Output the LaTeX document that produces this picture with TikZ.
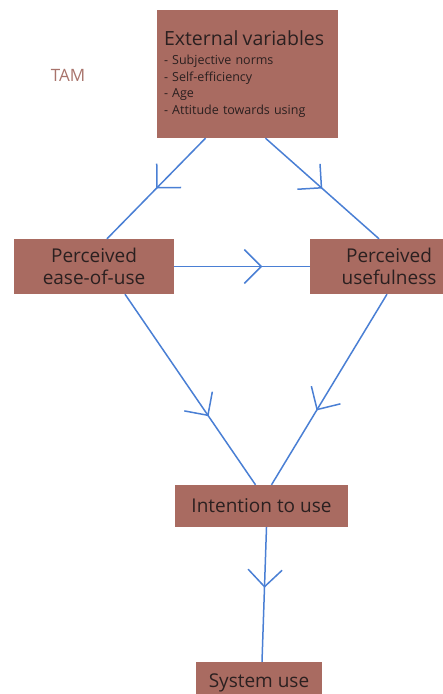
\documentclass[tikz,border=0pt]{standalone}
\usepackage{fontspec}
\setmainfont{Open Sans}
\usetikzlibrary{arrows.meta,calc,decorations.markings}

\definecolor{boxred}{HTML}{A96B61}
\definecolor{tamred}{HTML}{A8736B}
\definecolor{linkblue}{HTML}{4A7FD4}
\definecolor{inktext}{HTML}{2B2020}

\tikzset{
  box/.style={fill=boxred, text=inktext, inner sep=0pt, align=center},
  flow/.style={draw=linkblue, line width=1.5pt, postaction=decorate,
    decoration={markings, mark=at position #1 with
      {\arrow{Straight Barb[length=17pt,width=34pt,line width=1.5pt]}}}},
  flow/.default=0.5
}

\begin{document}
\begin{tikzpicture}[x=1pt,y=-1pt]
  \useasboundingbox (0,0) rectangle (443,694);

  \node[text=tamred, font=\fontsize{17}{19}\selectfont] (tam) at (68,75) {TAM};

  \node[box, align=left, text width=167pt, inner xsep=7pt, minimum height=128pt,
        font=\fontsize{12.5}{16.5}\selectfont] (ext) at (247.5,74)
    {{\fontsize{19.5}{21}\selectfont External variables}\\[3pt]
     - Subjective norms\\ - Self-efficiency\\ - Age\\ - Attitude towards using};
  \node[box, minimum width=160pt, minimum height=55pt,
        font=\fontsize{19}{22}\selectfont] (ease) at (94,266.5)
    {Perceived\\ease-of-use};
  \node[box, minimum width=158pt, minimum height=55pt,
        font=\fontsize{19}{22}\selectfont] (use) at (389,266.5)
    {Perceived\\usefulness};
  \node[box, minimum width=173pt, minimum height=42pt,
        font=\fontsize{19}{21}\selectfont] (intent) at (261.5,506)
    {Intention to use};
  \node[box, minimum width=126pt, minimum height=42pt,
        font=\fontsize{19}{21}\selectfont] (sys) at (259,683)
    {System use};

  \begin{scope}
    \draw[flow=0.5] ($(ext.south)+(-42,0)$) -- ($(ease.north)+(13,0)$);
    \draw[flow=0.5] ($(ext.south)+(18,0)$) -- ($(use.north)+(-10,0)$);
    \draw[flow=0.65] (ease.east) -- (use.west);
    \draw[flow=0.64] ($(ease.south)+(31,0)$) -- ($(intent.north)+(-6,0)$);
    \draw[flow=0.61] ($(use.south)+(-2,0)$) -- ($(intent.north)+(10,0)$);
    \draw[flow=0.45] ($(intent.south)+(5,0)$) -- ($(sys.north)+(3,0)$);
  \end{scope}
\end{tikzpicture}
\end{document}
